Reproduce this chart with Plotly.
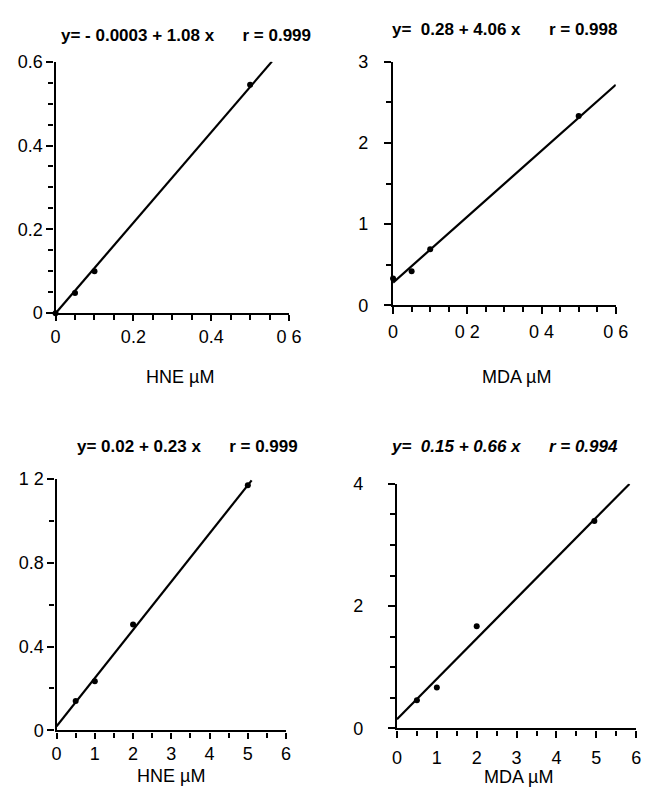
import plotly.graph_objects as go

W, H = 657, 795

# ---- data ----
hne1_x = [0.0, 0.05, 0.1, 0.5]
hne1_y = [0.0, 0.048, 0.1, 0.545]
hne1_fit = (-0.0003, 1.08)
hne1_xend = 0.556

mda1_x = [0.0, 0.05, 0.1, 0.5]
mda1_y = [0.33, 0.42, 0.69, 2.33]
mda1_fit = (0.28, 4.06)
mda1_xend = 0.6

hne2_x = [0.5, 1.0, 2.0, 5.0]
hne2_y = [0.14, 0.235, 0.505, 1.17]
hne2_fit = (0.02, 0.23)
hne2_xend = 5.1

mda2_x = [0.5, 1.0, 2.0, 4.95]
mda2_y = [0.46, 0.67, 1.67, 3.39]
mda2_fit = (0.15, 0.66)
mda2_xend = 5.83

titles = ["y= - 0.0003 + 1.08 x      r = 0.999",
          "y=  0.28 + 4.06 x      r = 0.998",
          "y= 0.02 + 0.23 x      r = 0.999",
          "<i>y=  0.15 + 0.66 x      r = 0.994</i>"]
xtitles = ["HNE µM", "MDA µM", "HNE µM", "MDA µM"]

x_ticks1 = [0, 0.2, 0.4, 0.6]; x_labels1 = ["0", "0.2", "0.4", "0 6"]
y_ticks1 = [0, 0.2, 0.4, 0.6]; y_labels1 = ["0", "0.2", "0.4", "0.6"]
x_ticks2 = [0, 0.2, 0.4, 0.6]; x_labels2 = ["0", "0 2", "0 4", "0 6"]
y_ticks2 = [0, 1, 2, 3]; y_labels2 = ["0", "1", "2", "3"]
x_ticks3 = [0, 1, 2, 3, 4, 5, 6]; x_labels3 = ["0", "1", "2", "3", "4", "5", "6"]
y_ticks3 = [0, 0.4, 0.8, 1.2]; y_labels3 = ["0", "0.4", "0.8", "1 2"]
x_ticks4 = [0, 1, 2, 3, 4, 5, 6]; x_labels4 = ["0", "1", "2", "3", "4", "5", "6"]
y_ticks4 = [0, 2, 4]; y_labels4 = ["0", "2", "4"]

panels = [
    dict(x=hne1_x, y=hne1_y, fit=hne1_fit, xend=hne1_xend,
         xr=[0, 0.6], yr=[0, 0.6], xt=(x_ticks1, x_labels1), yt=(y_ticks1, y_labels1),
         xminor=0.05, yminor=0.05, px=(52, 292), py=(53, 311), ystand=0, xstand=0, xlen=6,
         title_xy=(186, 26), xtitle_xy=(180, 376)),
    dict(x=mda1_x, y=mda1_y, fit=mda1_fit, xend=mda1_xend,
         xr=[0, 0.6], yr=[0, 3], xt=(x_ticks2, x_labels2), yt=(y_ticks2, y_labels2),
         xminor=0.05, yminor=0.5, px=(399, 628), py=(53, 303), ystand=12, xstand=2, xlen=7,
         title_xy=(514, 20), xtitle_xy=(526, 376)),
    dict(x=hne2_x, y=hne2_y, fit=hne2_fit, xend=hne2_xend,
         xr=[0, 6], yr=[0, 1.2], xt=(x_ticks3, x_labels3), yt=(y_ticks3, y_labels3),
         xminor=0.5, yminor=0.2, px=(53, 289), py=(481, 739), ystand=0, xstand=0, xlen=6,
         title_xy=(188, 448), xtitle_xy=(171, 786)),
    dict(x=mda2_x, y=mda2_y, fit=mda2_fit, xend=mda2_xend,
         xr=[0, 6], yr=[0, 4], xt=(x_ticks4, x_labels4), yt=(y_ticks4, y_labels4),
         xminor=0.5, yminor=0.5, px=(403, 649), py=(486, 737), ystand=21, xstand=5, xlen=7,
         title_xy=(514, 448), xtitle_xy=(528, 787)),
]

fig = go.Figure()
FONT = "Liberation Sans, Arial, sans-serif"
annotations = []
layout = {}
for i, p in enumerate(panels):
    n = "" if i == 0 else str(i + 1)
    xa, ya = "x" + n, "y" + n
    a, b = p["fit"]
    fx = [0, p["xend"]]
    fy = [a + b * v for v in fx]
    fig.add_trace(go.Scatter(x=fx, y=fy, mode="lines", line=dict(color="black", width=2.2),
                             xaxis=xa, yaxis=ya, showlegend=False, cliponaxis=False))
    fig.add_trace(go.Scatter(x=p["x"], y=p["y"], mode="markers",
                             marker=dict(color="black", size=6, symbol="circle"),
                             xaxis=xa, yaxis=ya, showlegend=False, cliponaxis=False))
    common = dict(showline=True, linecolor="black", linewidth=2.2, showgrid=False, zeroline=False,
                  ticks="outside", tickwidth=2, tickcolor="black",
                  tickfont=dict(family=FONT, size=18, color="black"))
    layout["xaxis" + n] = dict(common, domain=[p["px"][0] / W, p["px"][1] / W], range=p["xr"],
                               anchor=ya, tickvals=p["xt"][0], ticktext=p["xt"][1],
                               ticklen=p["xlen"], ticklabelstandoff=p["xstand"],
                               minor=dict(dtick=p["xminor"], ticks="outside", ticklen=5,
                                          tickwidth=2, tickcolor="black", showgrid=False))
    layout["yaxis" + n] = dict(common, domain=[1 - p["py"][1] / H, 1 - p["py"][0] / H], range=p["yr"],
                               anchor=xa, tickvals=p["yt"][0], ticktext=p["yt"][1],
                               ticklen=7, ticklabelstandoff=p["ystand"],
                               minor=dict(dtick=p["yminor"], ticks="outside", ticklen=5,
                                          tickwidth=2, tickcolor="black", showgrid=False))
    annotations.append(dict(text="<b>" + titles[i] + "</b>", x=p["title_xy"][0] / W,
                            y=1 - p["title_xy"][1] / H, xref="paper", yref="paper",
                            xanchor="center", yanchor="middle", showarrow=False,
                            font=dict(family=FONT, size=17, color="black")))
    annotations.append(dict(text=xtitles[i], x=p["xtitle_xy"][0] / W,
                            y=1 - p["xtitle_xy"][1] / H, xref="paper", yref="paper",
                            xanchor="center", yanchor="middle", showarrow=False,
                            font=dict(family=FONT, size=18, color="black")))

fig.update_layout(**layout)
fig.update_layout(width=W, height=H, margin=dict(l=0, r=0, t=0, b=0),
                  paper_bgcolor="white", plot_bgcolor="white",
                  annotations=annotations)
fig.write_html("out.html", config={"displayModeBar": False},
               post_script="document.body.style.margin='0';document.body.style.overflow='hidden';")
